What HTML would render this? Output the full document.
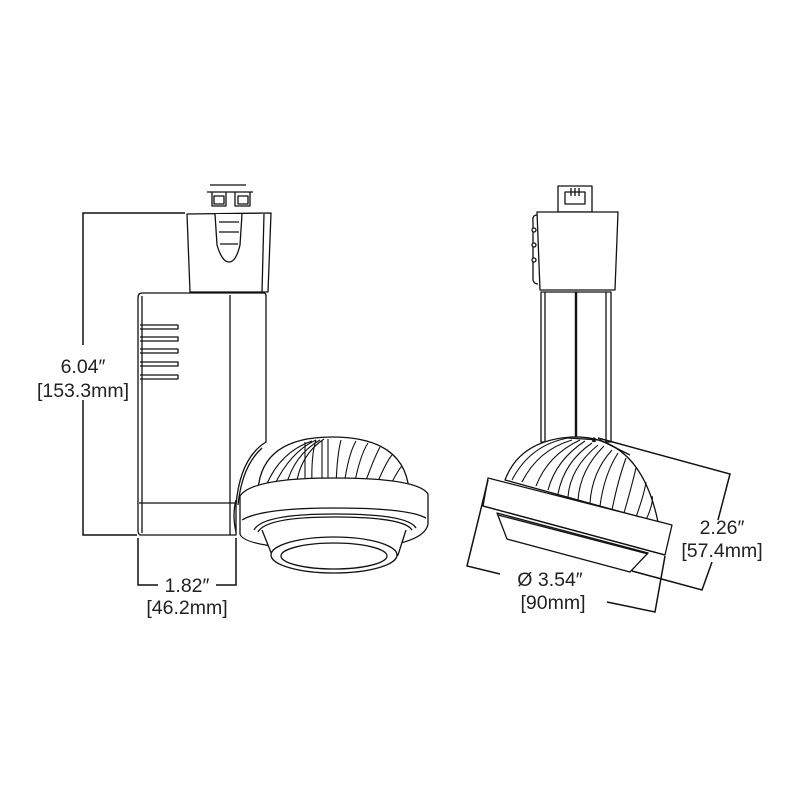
<!DOCTYPE html>
<html><head><style>
html,body{margin:0;padding:0;background:#fff;}
svg{display:block}
text{font-family:"Liberation Sans",sans-serif;font-size:19.5px;fill:#222;}
</style></head><body>
<svg width="800" height="800" viewBox="0 0 800 800" xmlns="http://www.w3.org/2000/svg">
<g fill="#fff" stroke="#111" stroke-width="1.3" stroke-linejoin="round">
<!-- LEFT VIEW -->
<path d="M210 185 H246 M207 192 H253 M212 192 V206 H226 V192 M235 192 V206 H250 V192" fill="none"/>
<rect x="214" y="196" width="10" height="8"/><rect x="238" y="196" width="10" height="8"/>
<polygon points="187,214 271,213 268,292 190,292"/>
<line x1="264" y1="214" x2="262" y2="292"/>
<path d="M215 214 L217 245 Q222 262 229 262 Q236 262 240 245 L242 214" />
<path d="M219 222 H239 M219 232 H239 M220 244 H238" fill="none"/>
<path d="M142 293 H264 Q266 293 266 296 V442 Q240 458 236 505 V535 H141 Q138 535 138 530 V298 Q138 293 142 293 Z"/>
<line x1="142" y1="296" x2="142" y2="533"/>
<line x1="230" y1="295" x2="230" y2="535"/>
<line x1="139" y1="503" x2="236" y2="503"/>
<path d="M262 448 Q242 466 238 505" fill="none"/>
<g fill="none">
<path d="M140 325 H178 V329 H140 M140 337 H178 V341 H140 M140 349 H178 V353 H140 M140 362 H178 V366 H140 M140 375 H178 V379 H140"/>
</g>
<!-- dome left -->
<path d="M258 490 Q262 437 332 437 Q404 437 409 490 Z"/>
<g fill="none" stroke-width="1.1">
<path d="M266 486 Q280 452 312 441 M274 486 Q290 452 316 440 M286 486 Q294 455 320 440 M296 486 Q300 455 324 439 M305 486 V442 M312 486 Q311 455 316 440 M322 486 V440 M328 486 V439 M336 486 Q337 455 341 440 M344 486 Q348 455 356 441 M354 486 Q360 455 368 443 M364 486 Q374 458 380 447 M376 486 Q386 462 392 455 M390 486 Q398 470 402 466"/>
</g>
<!-- ring -->
<path d="M240 496 Q252 478 334 478 Q418 478 428 494 V524 Q424 548 334 550 Q244 548 240 534 Z"/>
<path d="M242 520 Q262 508 334 508 Q408 508 426 518" fill="none"/>
<path d="M254 530 Q262 514 334 514 Q408 514 416 528" fill="none"/>
<path d="M258 532 Q266 517 334 517 Q404 517 412 530" fill="none"/>
<path d="M262 530 L272 555 Q290 572 334 572 Q380 572 398 555 L406 530" />
<ellipse cx="334" cy="555" rx="63" ry="18"/>
<ellipse cx="334" cy="556" rx="53" ry="13"/>
<path d="M236 500 Q232 515 236 532" fill="none"/>

<!-- RIGHT VIEW -->
<rect x="558" y="186" width="34" height="26"/>
<path d="M565 192 H585 V204 H565 Z M571 188 V196 M575 188 V196 M579 188 V196" fill="none"/>
<polygon points="537,212 618,212 615,290 540,290"/>
<path d="M537 215 Q532 215 533 222 V280 Q534 284 538 284" fill="none"/>
<circle cx="534" cy="230" r="2"/><circle cx="534" cy="245" r="2"/><circle cx="534" cy="260" r="2"/>
<rect x="541" y="292" width="70" height="150"/>
<line x1="545" y1="292" x2="545" y2="442"/>
<line x1="606" y1="292" x2="606" y2="442"/>
<line x1="576" y1="292" x2="576" y2="445" stroke-width="2.4"/>
<path d="M505 480 Q520 440 572 437 Q640 435 658 522 Z"/>
<g fill="none" stroke-width="1.1">
<path d="M512 480 Q530 445 568 438 M522 482 Q538 450 572 440 M536 486 Q548 455 580 440 M548 490 Q556 460 585 441 M558 494 Q564 462 592 443 M568 497 Q570 468 598 445 M578 500 Q580 470 604 446 M590 503 Q592 472 612 450 M600 506 Q604 475 618 453 M612 510 Q618 480 626 458 M624 513 Q632 485 636 468 M636 517 Q644 495 646 482 M646 520 Q654 502 652 496"/>
</g>
<path d="M568 438 L600 440 L630 455" fill="none"/>
<text x="592" y="445" style="font-size:10px">*</text>
<polygon points="488,478 672,525 665,555 483,506"/>
<line x1="483" y1="506" x2="665" y2="555"/>
<polygon points="497,513 507,539 630,572 648,553"/>
<line x1="498" y1="515" x2="648" y2="554"/>
</g>

<g fill="none" stroke="#111" stroke-width="1.5">
<path d="M185 213 H83 V345 M83 400 V535 H137"/>
<path d="M138 538 V585 H158 M216 585 H236 V538"/>
<path d="M488 480 L467 566 L500 574 M607 602 L655 612 L665 556"/>
<path d="M598 438 L730 474 L718 520 M712 562 L702 590 L632 571"/>
</g>
<text x="83" y="373" text-anchor="middle">6.04″</text>
<text x="83" y="397" text-anchor="middle">[153.3mm]</text>
<text x="187" y="592" text-anchor="middle">1.82″</text>
<text x="187" y="614" text-anchor="middle">[46.2mm]</text>
<text x="550" y="586" text-anchor="middle">Ø 3.54″</text>
<text x="553" y="609" text-anchor="middle">[90mm]</text>
<text x="722" y="534" text-anchor="middle">2.26″</text>
<text x="722" y="557" text-anchor="middle">[57.4mm]</text>
</svg>
</body></html>
